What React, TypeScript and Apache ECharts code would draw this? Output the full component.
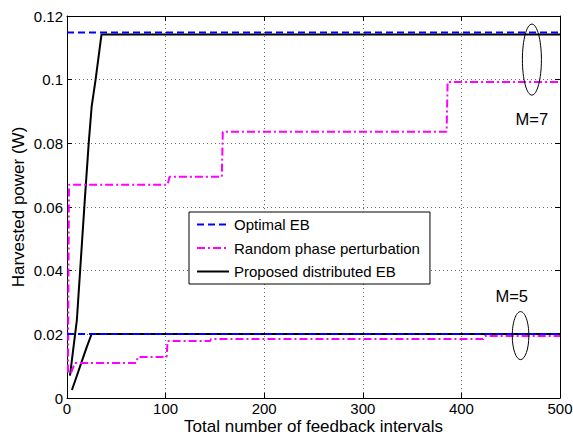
import React, { useEffect, useRef } from "react";
import * as echarts from "echarts";

// Data (x = feedback interval, y = harvested power in W)
const optimalM7: number[][] = [[0, 0.1148], [500, 0.1148]];
const optimalM5: number[][] = [[0, 0.0201], [500, 0.0201]];
const proposedM7: number[][] = [
  [3, 0.007], [10, 0.0245], [18, 0.062], [22, 0.08], [25, 0.0915], [29, 0.1], [35, 0.1142], [500, 0.1142],
];
const proposedM5: number[][] = [
  [5, 0.0025], [10, 0.007], [15, 0.0115], [20, 0.016], [25, 0.0201], [500, 0.0201],
];
const randomM7: number[][] = [
  [1, 0.008], [2, 0.067], [102, 0.067], [104, 0.0695], [157, 0.0695], [158, 0.0836],
  [385, 0.0836], [386, 0.0993], [500, 0.0993],
];
const randomM5: number[][] = [
  [4, 0.0078], [8, 0.011], [70, 0.011], [72, 0.0129], [101, 0.0129], [102, 0.0179],
  [145, 0.0179], [146, 0.0185], [422, 0.0185], [424, 0.0195], [500, 0.0195],
];
const legendNames = ["Optimal EB", "Random phase perturbation", "Proposed distributed EB"];
const annotations = [
  { label: "M=7", ellipseAt: [471.5, 0.1063], labelAt: [471.5, 0.0878] },
  { label: "M=5", ellipseAt: [460, 0.0196], labelAt: [451, 0.032] },
];

const FONT = '"Liberation Sans", Arial, Helvetica, sans-serif';

export default function App() {
  const ref = useRef<HTMLDivElement>(null);
  useEffect(() => {
    if (!ref.current) return;
    const chart = echarts.init(ref.current, undefined, { renderer: "svg" });
    const axisLineStyle = { color: "#000", width: 1 };
    const tick = { show: true, inside: true, length: 5, lineStyle: { color: "#000", width: 1 } };
    const grid = { show: true, lineStyle: { color: "#666", type: [1, 3], width: 1 } };
    const lineBase = { type: "line", symbol: "none", showSymbol: false, xAxisIndex: 0, yAxisIndex: 0 };
    const black = { color: "#000", width: 2, type: "solid" };
    const magenta = { color: "#ff00ff", width: 2, type: [8, 3, 2, 3] };
    const blue = { color: "#0000ff", width: 2, type: [7, 4] };
    chart.setOption({
      animation: false,
      backgroundColor: "#fff",
      textStyle: { fontFamily: FONT },
      grid: { left: 67, right: 13, top: 16, bottom: 37, containLabel: false, outerBoundsMode: "none" },
      xAxis: [
        {
          type: "value", min: 0, max: 500, interval: 100, position: "bottom",
          name: "Total number of feedback intervals", nameLocation: "middle", nameGap: 20,
          nameMoveOverlap: false,
          nameTextStyle: { color: "#000", fontSize: 17, lineHeight: 16, fontFamily: FONT },
          axisLine: { show: true, onZero: false, lineStyle: axisLineStyle },
          axisTick: tick,
          axisLabel: { color: "#000", fontSize: 15, lineHeight: 15, margin: 3, fontFamily: FONT },
          splitLine: grid,
        },
        {
          type: "value", min: 0, max: 500, interval: 100, position: "top",
          axisLine: { show: true, onZero: false, lineStyle: axisLineStyle },
          axisTick: tick, axisLabel: { show: false }, splitLine: { show: false },
        },
      ],
      yAxis: [
        {
          type: "value", min: 0, max: 0.12, interval: 0.02, position: "left",
          name: "Harvested power (W)", nameLocation: "middle", nameGap: 40,
          nameMoveOverlap: false,
          nameTextStyle: { color: "#000", fontSize: 17, fontFamily: FONT },
          axisLine: { show: true, onZero: false, lineStyle: axisLineStyle },
          axisTick: tick,
          axisLabel: {
            color: "#000", fontSize: 15, margin: 4, fontFamily: FONT,
            formatter: (v: number) => String(+v.toFixed(2)),
          },
          splitLine: grid,
        },
        {
          type: "value", min: 0, max: 0.12, interval: 0.02, position: "right",
          axisLine: { show: true, onZero: false, lineStyle: axisLineStyle },
          axisTick: tick, axisLabel: { show: false }, splitLine: { show: false },
        },
      ],
      legend: {
        data: legendNames,
        orient: "vertical",
        left: 189, top: 212,
        backgroundColor: "#fff",
        borderColor: "#000", borderWidth: 1, borderRadius: 0,
        padding: [5, 10, 5, 7],
        itemWidth: 32, itemHeight: 14, itemGap: 8.5,
        itemStyle: { opacity: 0 },
        textStyle: { color: "#000", fontSize: 15, fontFamily: FONT },
      },
      series: [
        { ...lineBase, name: legendNames[2], data: proposedM7, lineStyle: black, itemStyle: { color: "#000" } },
        { ...lineBase, name: legendNames[2], data: proposedM5, lineStyle: black, itemStyle: { color: "#000" } },
        { ...lineBase, name: legendNames[1], data: randomM7, lineStyle: magenta, itemStyle: { color: "#ff00ff" } },
        { ...lineBase, name: legendNames[1], data: randomM5, lineStyle: magenta, itemStyle: { color: "#ff00ff" } },
        { ...lineBase, name: legendNames[0], data: optimalM7, lineStyle: blue, itemStyle: { color: "#0000ff" } },
        { ...lineBase, name: legendNames[0], data: optimalM5, lineStyle: blue, itemStyle: { color: "#0000ff" } },
      ],
    });
    const toPx = (p: number[]) => chart.convertToPixel({ gridIndex: 0 }, p) as number[];
    const els: any[] = [];
    annotations.forEach((a, i) => {
      const c = toPx(a.ellipseAt);
      const t = toPx(a.labelAt);
      els.push({
        type: "ellipse",
        shape: { cx: c[0], cy: c[1], rx: i === 0 ? 9.5 : 8.3, ry: i === 0 ? 35.5 : 24 },
        style: { fill: "none", stroke: "#000", lineWidth: 1 },
        z: 100,
      });
      els.push({
        type: "text",
        x: t[0], y: t[1],
        style: {
          text: a.label, fill: "#000", fontSize: 16.5, fontFamily: FONT,
          align: "center", verticalAlign: "middle", textAlign: "center", textVerticalAlign: "middle",
        },
        z: 100,
      });
    });
    chart.setOption({ graphic: els });
    return () => chart.dispose();
  }, []);
  return <div ref={ref} style={{ position: "absolute", left: 0, top: 0, width: 573, height: 435 }} />;
}
